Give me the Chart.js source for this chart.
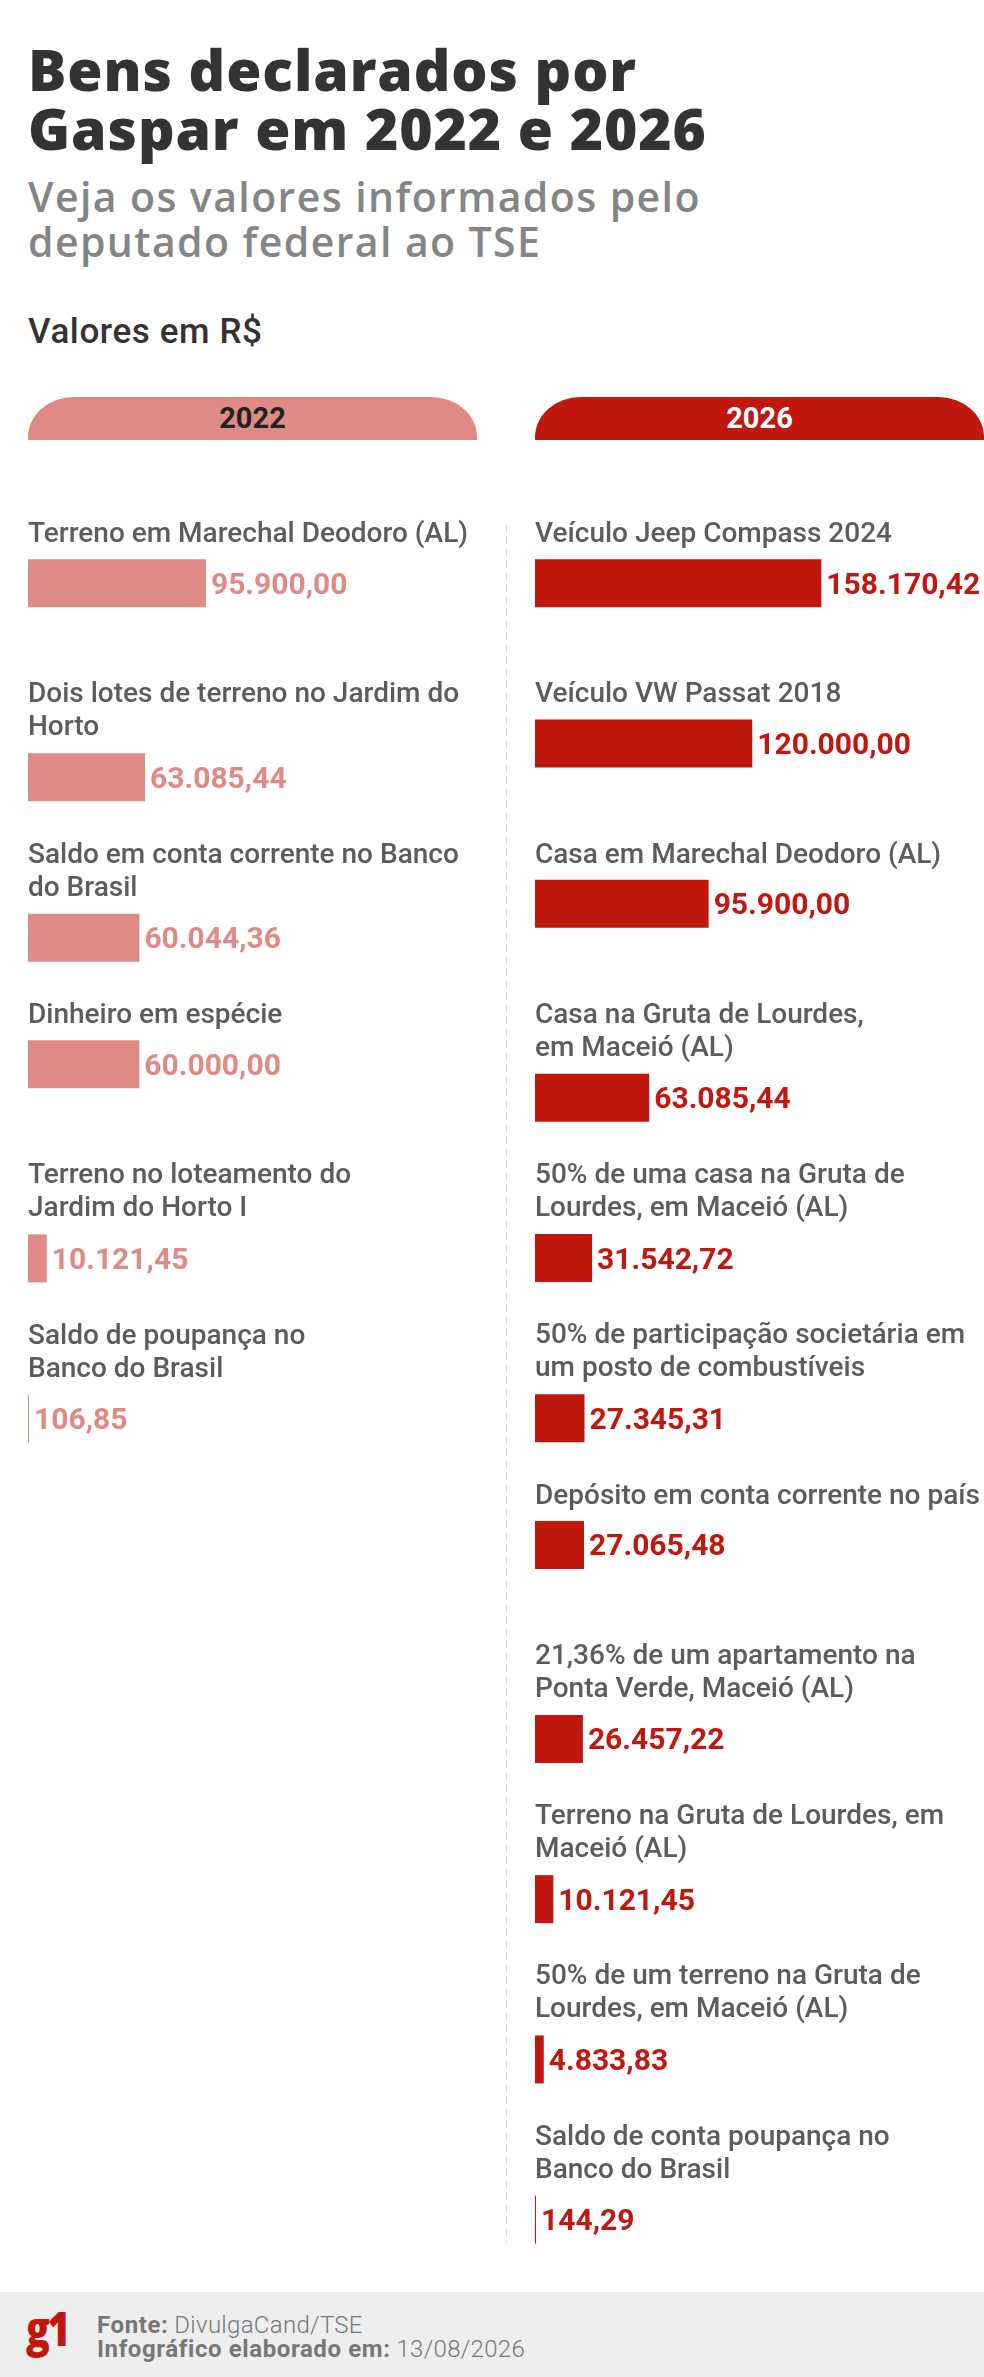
<!DOCTYPE html>
<html lang="pt-BR">
<head>
<meta charset="utf-8">
<title>Bens declarados por Gaspar em 2022 e 2026</title>
<script src="https://cdn.jsdelivr.net/npm/chart.js@4.4.1/dist/chart.umd.min.js"></script>
<style>
  html, body { margin: 0; padding: 0; background: #fff; }
  body { width: 984px; height: 2377px; position: relative; overflow: hidden; font-family: Roboto, sans-serif; }
  .abs { position: absolute; }
  #title { left: 28px; top: 40px; font: 800 57px/59px "Open Sans", sans-serif; color: #333; letter-spacing: 0.9px; white-space: nowrap; }
  #subtitle { left: 28px; top: 173.6px; font: 600 41px/45px "Open Sans", sans-serif; color: #858585; letter-spacing: 1.4px; white-space: nowrap; }
  #unit { left: 28px; top: 313.5px; font: 500 35px/35px Roboto, sans-serif; color: #333; letter-spacing: 0.6px; }
  .pill { top: 397px; width: 449px; height: 43px; border-radius: 46px 46px 0 0 / 40px 40px 0 0;
          display: flex; align-items: center; justify-content: center; font: 700 29px/1 Roboto, sans-serif; }
  #pill22 { left: 28px; background: #e08a85; color: #222; }
  #pill26 { left: 535px; background: #c0170f; color: #fff; }
  #divider { left: 506px; top: 525px; width: 1px; height: 1718px;
             background: repeating-linear-gradient(to bottom, #cfcfcf 0 7px, transparent 7px 12px); }
  #left { left: 28px; top: 500px; }
  #right { left: 535px; top: 500px; }
  #footer { left: 0; top: 2292px; width: 984px; height: 85px; background: #eeeeee; }
  #logo { left: 26px; top: 2304.4px; font: 800 48px/48px "Open Sans", sans-serif; color: #c4170c;
          letter-spacing: -3px; transform: scaleX(0.82); transform-origin: left top; }
  #source { left: 97px; top: 2313px; font: 24px/24px Roboto, sans-serif; color: #777; white-space: nowrap; }
  #source b { font-weight: 700; letter-spacing: 0.6px; }
  #source span { font-weight: 300; letter-spacing: 0.3px; }
</style>
</head>
<body>
<div id="title" class="abs">Bens declarados por<br>Gaspar em 2022 e 2026</div>
<div id="subtitle" class="abs">Veja os valores informados pelo<br>deputado federal ao TSE</div>
<div id="unit" class="abs">Valores em R$</div>
<div id="pill22" class="abs pill">2022</div>
<div id="pill26" class="abs pill">2026</div>
<div id="divider" class="abs"></div>
<canvas id="left" class="abs" width="449" height="982"></canvas>
<canvas id="right" class="abs" width="449" height="1783"></canvas>
<div id="footer" class="abs"></div>
<div id="logo" class="abs">g1</div>
<div id="source" class="abs"><b>Fonte:</b> <span>DivulgaCand/TSE</span><br><b>Infográfico elaborado em:</b> <span>13/08/2026</span></div>

<script>
// bens declarados em 2022 (labels já quebrados em linhas como no original)
const labels2022 = [
  ['Terreno em Marechal Deodoro (AL)'],
  ['Dois lotes de terreno no Jardim do', 'Horto'],
  ['Saldo em conta corrente no Banco', 'do Brasil'],
  ['Dinheiro em espécie'],
  ['Terreno no loteamento do', 'Jardim do Horto I'],
  ['Saldo de poupança no', 'Banco do Brasil']
];
const values2022 = [95900.00, 63085.44, 60044.36, 60000.00, 10121.45, 106.85];

// bens declarados em 2026
const labels2026 = [
  ['Veículo Jeep Compass 2024'],
  ['Veículo VW Passat 2018'],
  ['Casa em Marechal Deodoro (AL)'],
  ['Casa na Gruta de Lourdes,', 'em Maceió (AL)'],
  ['50% de uma casa na Gruta de', 'Lourdes, em Maceió (AL)'],
  ['50% de participação societária em', 'um posto de combustíveis'],
  ['Depósito em conta corrente no país'],
  ['21,36% de um apartamento na', 'Ponta Verde, Maceió (AL)'],
  ['Terreno na Gruta de Lourdes, em', 'Maceió (AL)'],
  ['50% de um terreno na Gruta de', 'Lourdes, em Maceió (AL)'],
  ['Saldo de conta poupança no', 'Banco do Brasil']
];
const values2026 = [158170.42, 120000.00, 95900.00, 63085.44, 31542.72, 27345.31, 27065.48, 26457.22, 10121.45, 4833.83, 144.29];

// fim do eixo x de cada coluna
const xMax2022 = 242000;
const xMax2026 = 248000;

function fmt(v) {
  const parts = v.toFixed(2).split('.');
  const int = parts[0].replace(/\B(?=(\d{3})+(?!\d))/g, '.');
  return int + ',' + parts[1];
}

// texto do item acima da barra e valor ao lado
const rowText = {
  id: 'rowText',
  afterDatasetsDraw(chart, args, opts) {
    const ctx = chart.ctx;
    const y = chart.scales.y;
    const left = chart.chartArea.left;
    const step = y.height / chart.data.labels.length;
    ctx.save();
    ctx.textBaseline = 'alphabetic';
    ctx.textAlign = 'left';
    ctx.font = '500 28px Roboto';
    ctx.fillStyle = '#5c5c5c';
    chart.data.labels.forEach((lines, i) => {
      const top = y.getPixelForValue(i) - step / 2;
      lines.forEach((t, k) => ctx.fillText(t, left, top + 22 + k * 33));
    });
    ctx.font = '700 30px Roboto';
    ctx.fillStyle = opts.color;
    chart.data.datasets.forEach((ds, di) => {
      chart.getDatasetMeta(di).data.forEach((bar, i) => {
        if (ds.data[i] == null) return;
        ctx.fillText(fmt(ds.data[i]), bar.x + 5, bar.y + 10.5);
      });
    });
    ctx.restore();
  }
};

function makeChart(id, labels, values, xMax, color) {
  // uma linha de texto -> barra mais alta no espaço da linha; duas linhas -> mais baixa
  const oneLine = values.map((v, i) => labels[i].length === 1 ? v : null);
  const twoLines = values.map((v, i) => labels[i].length > 1 ? v : null);
  const common = { backgroundColor: color, borderWidth: 0, minBarLength: 1,
                   categoryPercentage: 0.4205, barPercentage: 1.424 };
  return new Chart(document.getElementById(id).getContext('2d'), {
    type: 'bar',
    data: {
      labels: labels,
      datasets: [
        Object.assign({ data: oneLine }, common),
        Object.assign({ data: twoLines }, common)
      ]
    },
    options: {
      indexAxis: 'y',
      responsive: false,
      animation: false,
      events: [],
      layout: { padding: { top: 20, bottom: 0, left: 0, right: 0 } },
      scales: {
        x: { type: 'linear', min: 0, max: xMax, display: false },
        y: { type: 'category', display: false }
      },
      plugins: {
        legend: { display: false },
        tooltip: { enabled: false },
        rowText: { color: color }
      }
    },
    plugins: [rowText]
  });
}

makeChart('left', labels2022, values2022, xMax2022, '#e08a85');
makeChart('right', labels2026, values2026, xMax2026, '#c0170f');
</script>
</body>
</html>
